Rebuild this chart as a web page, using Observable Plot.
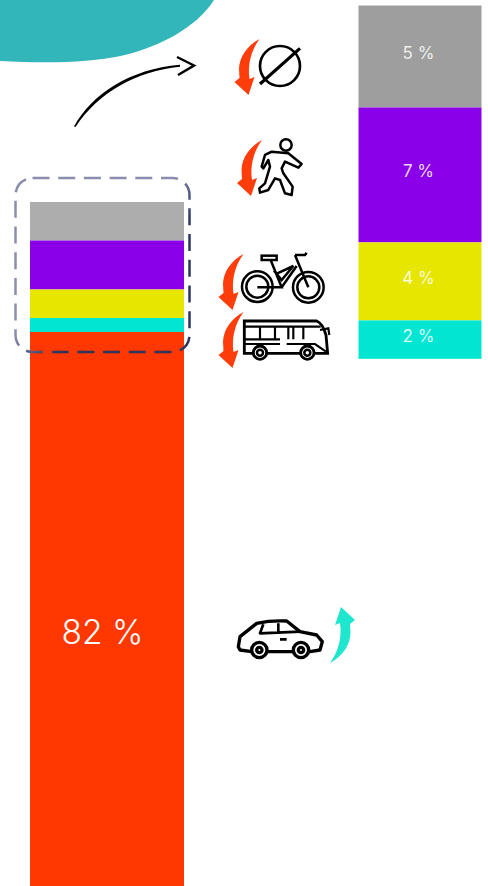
<!DOCTYPE html>
<html>
<head>
<meta charset="utf-8">
<script src="https://cdn.jsdelivr.net/npm/d3@7"></script>
<script src="https://cdn.jsdelivr.net/npm/@observablehq/plot@0.6"></script>
<style>
html,body{margin:0;padding:0;background:#fff;overflow:hidden}
svg{display:block}
</style>
</head>
<body>
<div id="chart"></div>
<script>
// Modes of transport: shares
const modes = ["Aucun", "Marche", "Vélo", "Transports en commun", "Voiture"];
const overviewShares = [5.35, 6.8, 3.96, 1.94, 82];
const overviewColors = ["#adadad", "#8a00e8", "#e6e600", "#00e6d2", "#ff3700"];
const detailModes = ["Aucun", "Marche", "Vélo", "Transports en commun"];
const detailShares = [5.23, 6.92, 4.0, 1.97];
const detailColors = ["#9e9e9e", "#8a00e8", "#e6e600", "#00e6d2"];
const detailLabels = ["5 %", "7 %", "4 %", "2 %"];
const mainLabel = "82 %";

function stack(names, shares, colors, labels) {
  let c = 0;
  return names.map((m, i) => {
    const r = {mode: m, y1: c, y2: c + shares[i], color: colors[i], label: labels ? labels[i] : null};
    c += shares[i];
    return r;
  });
}
const overview = stack(modes, overviewShares, overviewColors);
const detailZoom = 2.708, detailTop = -27.29;
const detail = stack(detailModes, detailShares, detailColors, detailLabels)
  .map(d => ({...d, y1: detailTop + d.y1 * detailZoom, y2: detailTop + d.y2 * detailZoom}));

const NS = "http://www.w3.org/2000/svg";
function deco(build) {
  return () => {
    const g = document.createElementNS(NS, "g");
    g.innerHTML = build;
    return g;
  };
}
const arrowD = "M0,0 C-13,7 -20,18 -20.5,30 L-20,39 L-25,43 L-11,56 L-5,38 L-10,40 C-12,27 -9,12 0,0Z";
const arrow = (x, y, c, rot = 0) =>
  `<path d="${arrowD}" fill="${c}" transform="translate(${x},${y}) rotate(${rot})"/>`;

const blob = deco(`<path d="M0,0 L214,0 C196,28 160,46 125,55 C85,64 40,63 0,61Z" fill="#33b6b9"/>`);
const sweep = deco(`
  <path d="M74,126.5 C92,94 130,69 180,64.8 L180,66.8 C136,71 98,93 75.5,127Z" fill="#000"/>
  <path d="M177,57 L194,65.5 L178,75" fill="none" stroke="#000" stroke-width="2.5"/>`);
const dashed = deco(`
  <defs><linearGradient id="dg" x1="0" y1="0" x2="1" y2="1">
    <stop offset="0.45" stop-color="#8a8dae"/><stop offset="0.62" stop-color="#2c3560"/>
  </linearGradient></defs>
  <rect x="15.5" y="178" width="174" height="174" rx="17" fill="none" stroke="url(#dg)" stroke-width="2.5" stroke-dasharray="17 8.7"/>`);
const icons = deco(`
<g style="filter:blur(0.45px)">
  ${arrow(259.5, 39, "#ff3d0a")}
  ${arrow(262, 140, "#ff3d0a")}
  ${arrow(243.5, 254, "#ff3d0a")}
  ${arrow(243.5, 312, "#ff3d0a")}
  ${arrow(330, 663, "#1fe6cf", 180)}
  <g fill="none" stroke="#000">
    <g transform="translate(200,20) scale(.3333)">
      <circle cx="240" cy="138" r="60" stroke-width="8"/>
      <path d="M180,192 L300,85" stroke-width="9.5"/>
      <ellipse cx="258" cy="375" rx="17" ry="17" stroke-width="7.5"/>
      <path d="M215,395 L265,400 L305,432 L295,443 L255,425 L245,445 L250,460 L278,500 L275,525 L255,520 L240,480 L225,475 L205,510 L180,518 L178,505 L195,490 L210,440 L205,420 L190,445 L185,440 L195,405Z" stroke-width="7.5" stroke-linejoin="round"/>
    </g>
    <g transform="translate(200,240) scale(.3333)" stroke-width="7.5">
      <circle cx="172" cy="140" r="46"/><circle cx="172" cy="140" r="33"/>
      <circle cx="325" cy="142" r="46"/><circle cx="325" cy="142" r="33"/>
      <rect x="185" y="47" width="45" height="13"/>
      <path d="M212,60 L245,142 L172,142 M222,92 L245,120 L280,78 L232,100 M245,142 L290,78 M285,45 L325,142 M285,45 L315,45 L320,38"/>
      <path d="M133,243 L350,243 Q368,250 378,285 L383,340 L133,340Z" stroke-width="8.5" fill="#fff"/>
      <path d="M135,260 L362,260 M135,298 L240,298 M135,312 L240,312 M260,312 L345,312 L378,335 M180,260 L180,298 M225,260 L225,298 M265,260 L265,298 M280,260 L280,298 M310,260 L310,298 M360,270 L385,265 L388,285" stroke-width="6.5"/>
      <circle cx="180" cy="338" r="20" fill="#fff" stroke-width="8.5"/><circle cx="180" cy="338" r="9"/>
      <circle cx="322" cy="338" r="20" fill="#fff" stroke-width="8.5"/><circle cx="322" cy="338" r="9"/>
    </g>
    <g transform="translate(220,595) scale(.3333)" stroke-width="10" stroke-linejoin="round">
      <path d="M55,155 L60,125 L110,85 Q150,76 200,78 L240,110 L290,120 L307,140 L300,165 L270,170 L95,170 L60,165Z" fill="#fff"/>
      <path d="M130,88 L120,115 L240,110 M175,85 L175,112 M180,133 L200,133" stroke-width="8"/>
      <circle cx="118" cy="165" r="23" fill="#fff"/><circle cx="118" cy="165" r="8"/>
      <circle cx="243" cy="165" r="23" fill="#fff"/><circle cx="243" cy="165" r="8"/>
    </g>
  </g>
</g>`);

const pxPerUnit = 7.2, overviewTopPx = 202;
const plot = Plot.plot({
  width: 488,
  height: 886,
  margin: 0,
  style: {background: "transparent"},
  x: {domain: [0, 488], range: [0, 488], axis: null},
  y: {domain: [-overviewTopPx / pxPerUnit, (886 - overviewTopPx) / pxPerUnit], range: [0, 886], axis: null},
  marks: [
    blob,
    Plot.rect(overview, {x1: 30, x2: 184, y1: "y1", y2: "y2", fill: d => d.color}),
    Plot.rect(detail, {x1: 358.5, x2: 481.5, y1: "y1", y2: "y2", fill: d => d.color}),
    Plot.text(detail, {
      x: 418, y: d => (d.y1 + d.y2) / 2, text: "label", dy: -3.5,
      fill: "#fff", fillOpacity: 0.85, fontSize: 17, fontWeight: 400, fontFamily: "Inter, sans-serif"
    }),
    Plot.text([mainLabel], {
      x: 102, y: overview[4].y1 + 41.8, text: d => d,
      fill: "#fff", fontSize: 33.5, fontWeight: 300, fontFamily: "Inter, sans-serif"
    }),
    sweep,
    dashed,
    icons
  ]
});
document.getElementById("chart").appendChild(plot);
</script>
</body>
</html>
